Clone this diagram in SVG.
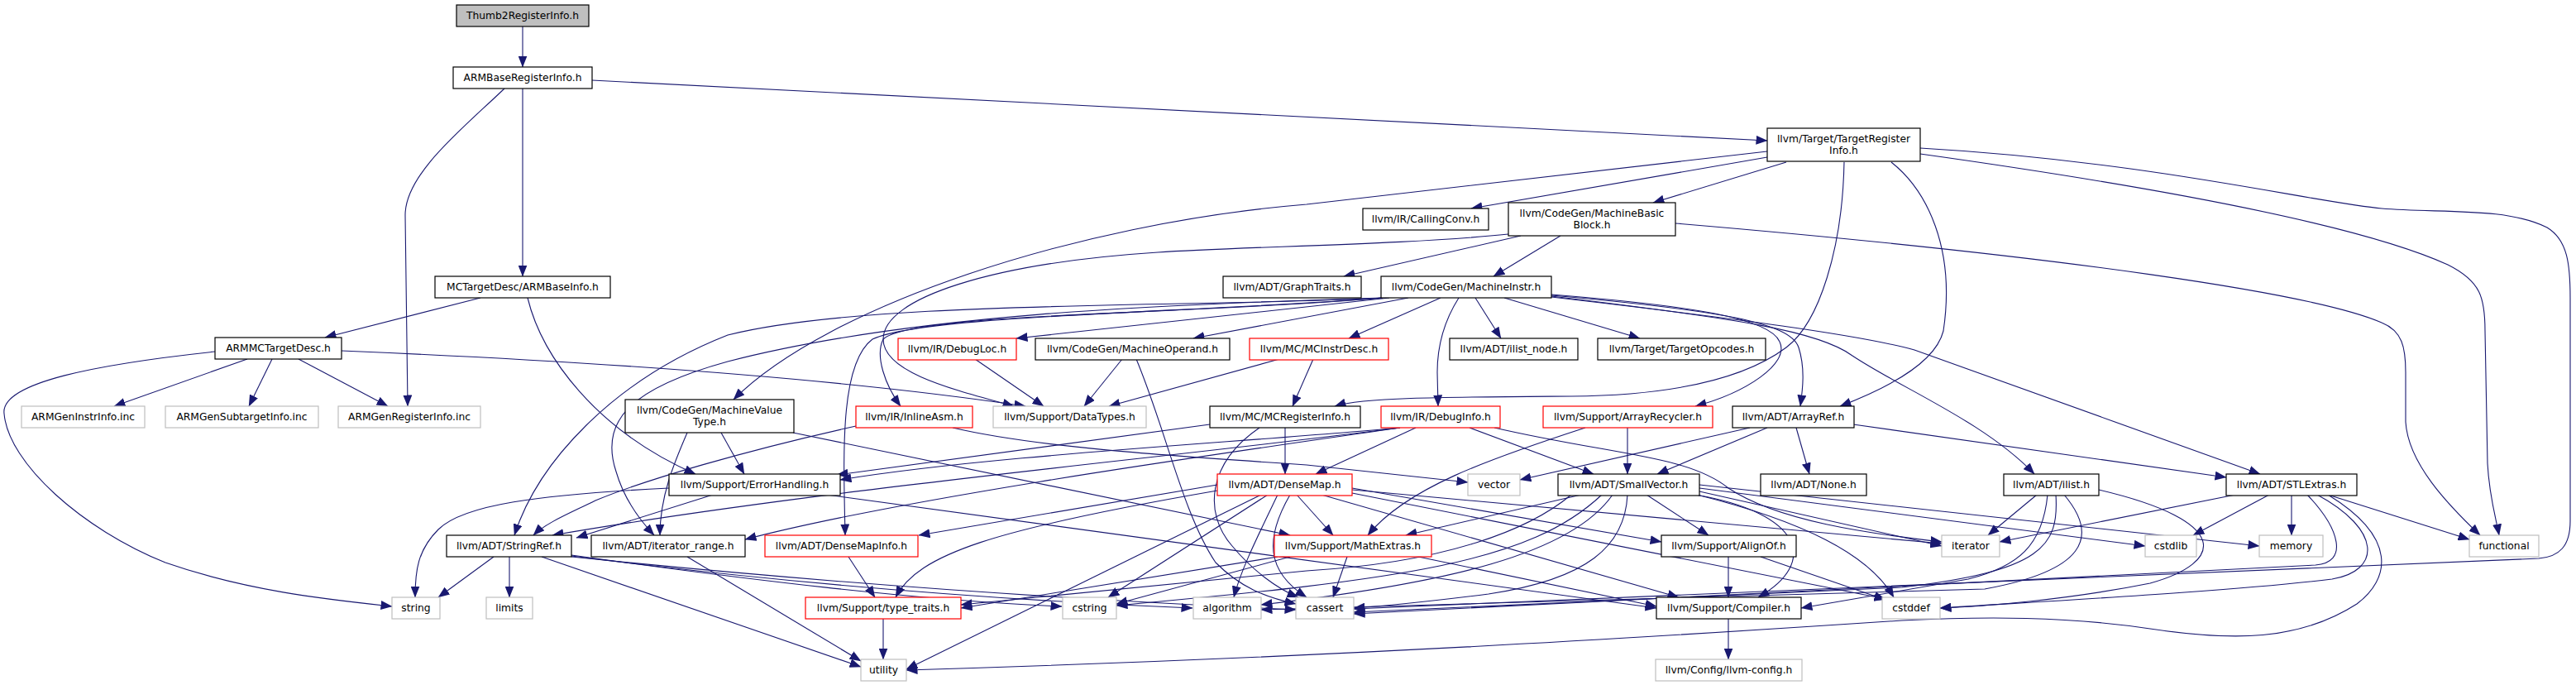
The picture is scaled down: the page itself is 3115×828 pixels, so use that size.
<svg xmlns="http://www.w3.org/2000/svg" width="3115" height="828" viewBox="0 0 3115 828">
<defs>
<marker id="a" viewBox="0 0 14 11" refX="13.5" refY="5.5" markerWidth="14" markerHeight="11" markerUnits="userSpaceOnUse" orient="auto"><path d="M0,0 L14,5.5 L0,11 z" fill="#191970"/></marker>
<style>
.n rect{fill:#fff;stroke:#000;stroke-width:1.2}
.r rect{stroke:#ff0000}
.g rect{stroke:#bfbfbf}
.s rect{fill:#bfbfbf}
text{font-family:"DejaVu Sans","Liberation Sans",Arial,sans-serif;font-size:12.3px;fill:#000;text-anchor:middle}
.e path{fill:none;stroke:#191970;stroke-width:1.1;marker-end:url(#a)}
</style>
</defs>
<rect width="3115" height="828" fill="#fff"/>
<g id="edges" class="e">
<path d="M632,32 L632,81"/>
<path d="M716,97 L2137,170"/>
<path d="M632,107 L632,334"/>
<path d="M610,107 C560,155 490,210 490,260 L493,491"/>
<path d="M581,360 L393,408"/>
<path d="M638,360 C655,430 720,520 841,573"/>
<path d="M299,434 L138,491"/>
<path d="M329,434 L301,491"/>
<path d="M361,434 L469,491"/>
<path d="M260,425 C120,440 0,462 5,500 C10,560 100,640 200,680 C300,715 400,725 474,733"/>
<path d="M413,424 C700,436 1000,455 1240,491"/>
<path d="M2137,183 L1580,247 C1300,270 1000,370 887,483"/>
<path d="M2137,190 L1779,252"/>
<path d="M2160,196 L1999,245"/>
<path d="M2230,196 C2228,300 2200,390 2160,420 C2100,465 2000,478 1900,479 C1750,480 1650,480 1614,491"/>
<path d="M2287,196 C2330,230 2365,300 2350,400 C2340,440 2280,470 2225,491"/>
<path d="M2322,179 C2600,195 2800,245 2880,252 C2950,258 3030,250 3080,275 C3105,290 3108,320 3108,360 L3108,630 C3108,660 3095,673 3070,675 L1637,736"/>
<path d="M2322,186 C2600,225 2850,270 2960,320 C3000,340 3005,360 3005,400 L3008,560 C3010,600 3018,625 3022,647"/>
<path d="M2026,270 C2500,310 2800,355 2880,390 C2905,400 2909,420 2909,450 L2909,510 C2912,560 2960,610 2999,647"/>
<path d="M1839,285 L1625,334"/>
<path d="M1887,285 L1806,334"/>
<path d="M1824,283 C1700,296 1500,298 1400,305 C1200,318 1068,360 1068,410 C1068,450 1150,470 1226,491"/>
<path d="M1742,360 L1631,409"/>
<path d="M1764,360 C1745,390 1738,420 1738,450 L1739,491"/>
<path d="M1784,360 L1815,409"/>
<path d="M1819,360 L1983,409"/>
<path d="M1680,360 L1229,409"/>
<path d="M1703,360 L1443,409"/>
<path d="M1672,360 C1450,372 1050,362 880,405 C740,460 650,560 622,647"/>
<path d="M1672,360 C1400,368 1100,380 880,437 C760,470 725,510 745,570 C755,605 775,630 791,647"/>
<path d="M1672,360 C1450,378 1120,380 1055,410 C1015,440 1020,550 1022,647"/>
<path d="M1672,360 C1450,380 1100,378 1068,410 C1058,430 1070,465 1089,491"/>
<path d="M1876,356 C2050,370 2140,385 2152,413 C2165,440 2110,475 2050,491"/>
<path d="M1876,357 C2080,375 2165,390 2175,420 C2183,445 2180,470 2177,491"/>
<path d="M1876,358 C2100,385 2200,400 2240,430 C2300,470 2400,510 2460,573"/>
<path d="M1876,359 C2100,385 2250,405 2315,423 L2733,573"/>
<path d="M831,523 C815,560 798,600 798,647"/>
<path d="M872,523 L900,573"/>
<path d="M959,523 L1560,647"/>
<path d="M1152,517 C1250,540 1400,550 1580,562 L1775,583"/>
<path d="M1035,515 C900,545 780,580 720,605 C690,620 660,632 645,647"/>
<path d="M1179,434 L1262,491"/>
<path d="M1357,434 L1311,491"/>
<path d="M1374,434 C1410,520 1430,620 1470,680 C1500,710 1530,722 1567,730"/>
<path d="M1547,434 L1341,491"/>
<path d="M1588,434 L1563,491"/>
<path d="M1554,517 L1554,573"/>
<path d="M1463,513 L1012,574"/>
<path d="M1523,517 C1460,560 1455,620 1490,660 C1515,690 1545,712 1570,722"/>
<path d="M1712,517 L1591,573"/>
<path d="M1777,517 L1927,573"/>
<path d="M1807,517 C1950,550 2040,550 2090,590 C2150,630 2260,645 2348,655"/>
<path d="M1693,517 C1500,535 1200,550 1016,580"/>
<path d="M1693,517 C1500,545 1100,600 901,652"/>
<path d="M1693,517 C1400,555 1000,590 668,647"/>
<path d="M1917,517 C1800,555 1700,590 1654,647"/>
<path d="M1968,517 L1968,573"/>
<path d="M2172,517 L2188,573"/>
<path d="M2137,517 L2004,573"/>
<path d="M2116,517 L1838,580"/>
<path d="M2241,513 L2692,577"/>
<path d="M1991,598 L2066,647"/>
<path d="M1968,598 C1965,660 1920,700 1800,718 C1720,728 1680,732 1637,735"/>
<path d="M2050,598 C2180,620 2200,680 2126,722"/>
<path d="M1912,598 L1700,647"/>
<path d="M1900,598 C1850,640 1750,680 1580,690 L1162,731"/>
<path d="M1937,598 C1850,680 1700,700 1350,732"/>
<path d="M1950,598 C1900,670 1750,705 1525,731"/>
<path d="M2052,598 C2180,630 2260,670 2290,722"/>
<path d="M2055,590 L2594,660"/>
<path d="M2055,586 L2732,660"/>
<path d="M2055,594 L2348,660"/>
<path d="M2090,673 L2090,722"/>
<path d="M2129,673 L2280,725"/>
<path d="M2090,748 L2090,797"/>
<path d="M1472,586 L1111,647"/>
<path d="M1472,593 C1200,640 1110,670 1083,722"/>
<path d="M1525,598 L1096,809"/>
<path d="M1533,598 L1340,722"/>
<path d="M1545,598 C1520,650 1500,690 1492,722"/>
<path d="M1560,598 C1530,650 1530,690 1580,722"/>
<path d="M1568,598 L1612,647"/>
<path d="M1598,598 L2030,722"/>
<path d="M1635,590 L2009,655"/>
<path d="M1635,592 L2348,657"/>
<path d="M1635,596 L2280,724"/>
<path d="M597,673 L530,722"/>
<path d="M616,673 L616,722"/>
<path d="M655,673 L1041,806"/>
<path d="M691,671 C900,700 1100,725 1284,733"/>
<path d="M691,672 C950,705 1200,725 1442,735"/>
<path d="M691,673 C1000,705 1300,725 1567,737"/>
<path d="M831,673 L1041,799"/>
<path d="M862,598 L697,650"/>
<path d="M809,590 C650,598 560,610 530,640 C505,665 502,690 502,722"/>
<path d="M1000,598 L2003,735"/>
<path d="M1026,673 L1058,722"/>
<path d="M1629,673 L1612,722"/>
<path d="M1715,673 L2003,733"/>
<path d="M1545,673 L1162,735"/>
<path d="M1560,673 L1350,730"/>
<path d="M1068,748 L1068,797"/>
<path d="M2463,598 L2404,647"/>
<path d="M2476,598 C2470,660 2440,685 2380,700 L2178,735"/>
<path d="M2486,598 C2490,660 2470,690 2300,710 L1637,740"/>
<path d="M2496,598 C2540,650 2520,690 2400,712 L1525,737"/>
<path d="M2538,592 C2700,630 2690,680 2600,705 C2500,725 2400,733 2346,735"/>
<path d="M2703,598 L2418,655"/>
<path d="M2744,598 L2652,647"/>
<path d="M2771,598 L2771,647"/>
<path d="M2815,598 L2986,652"/>
<path d="M2790,598 C2830,640 2840,680 2800,683 L1637,742"/>
<path d="M2802,598 C2880,640 2880,690 2820,700 C2700,715 2450,728 2346,735"/>
<path d="M2815,598 C2900,650 2890,700 2850,730 C2780,775 2700,775 2600,760 C2500,745 2400,745 2300,750 C2000,770 1600,795 1096,810"/>
</g>
<g id="n0" class="n s"><rect x="552" y="6" width="160" height="26"/><text x="632" y="23">Thumb2RegisterInfo.h</text></g>
<g id="n1" class="n"><rect x="548" y="81" width="168" height="26"/><text x="632" y="98">ARMBaseRegisterInfo.h</text></g>
<g id="n2" class="n"><rect x="2137" y="155" width="185" height="40"/><text x="2229.5" y="172">llvm/Target/TargetRegister</text><text x="2229.5" y="186">Info.h</text></g>
<g id="n3" class="n"><rect x="526" y="334" width="212" height="26"/><text x="632" y="351">MCTargetDesc/ARMBaseInfo.h</text></g>
<g id="n5" class="n"><rect x="260" y="408" width="153" height="26"/><text x="336.5" y="425">ARMMCTargetDesc.h</text></g>
<g id="n6" class="n g"><rect x="26" y="491" width="149" height="26"/><text x="100.5" y="508">ARMGenInstrInfo.inc</text></g>
<g id="n7" class="n g"><rect x="200" y="491" width="185" height="26"/><text x="292.5" y="508">ARMGenSubtargetInfo.inc</text></g>
<g id="n4" class="n g"><rect x="409" y="491" width="172" height="26"/><text x="495" y="508">ARMGenRegisterInfo.inc</text></g>
<g id="n8" class="n g"><rect x="474" y="722" width="58" height="26"/><text x="503" y="739">string</text></g>
<g id="n49" class="n g"><rect x="588" y="722" width="56" height="26"/><text x="616" y="739">limits</text></g>
<g id="n32" class="n"><rect x="540" y="647" width="151" height="26"/><text x="615.5" y="664">llvm/ADT/StringRef.h</text></g>
<g id="n33" class="n"><rect x="715" y="647" width="186" height="26"/><text x="808" y="664">llvm/ADT/iterator_range.h</text></g>
<g id="n11" class="n"><rect x="1648" y="252" width="152" height="26"/><text x="1724" y="269">llvm/IR/CallingConv.h</text></g>
<g id="n12" class="n"><rect x="1824" y="245" width="202" height="40"/><text x="1925" y="262">llvm/CodeGen/MachineBasic</text><text x="1925" y="276">Block.h</text></g>
<g id="n13" class="n"><rect x="1479" y="334" width="167" height="26"/><text x="1562.5" y="351">llvm/ADT/GraphTraits.h</text></g>
<g id="n14" class="n"><rect x="1670" y="334" width="206" height="26"/><text x="1773" y="351">llvm/CodeGen/MachineInstr.h</text></g>
<g id="n20" class="n r"><rect x="1086" y="409" width="143" height="26"/><text x="1157.5" y="426">llvm/IR/DebugLoc.h</text></g>
<g id="n21" class="n"><rect x="1252" y="409" width="235" height="26"/><text x="1369.5" y="426">llvm/CodeGen/MachineOperand.h</text></g>
<g id="n22" class="n r"><rect x="1511" y="409" width="168" height="26"/><text x="1595" y="426">llvm/MC/MCInstrDesc.h</text></g>
<g id="n23" class="n"><rect x="1753" y="409" width="155" height="26"/><text x="1830.5" y="426">llvm/ADT/ilist_node.h</text></g>
<g id="n24" class="n"><rect x="1932" y="409" width="203" height="26"/><text x="2033.5" y="426">llvm/Target/TargetOpcodes.h</text></g>
<g id="n15" class="n"><rect x="756" y="483" width="204" height="40"/><text x="858" y="500">llvm/CodeGen/MachineValue</text><text x="858" y="514">Type.h</text></g>
<g id="n25" class="n r"><rect x="1035" y="491" width="141" height="26"/><text x="1105.5" y="508">llvm/IR/InlineAsm.h</text></g>
<g id="n9" class="n g"><rect x="1201" y="491" width="185" height="26"/><text x="1293.5" y="508">llvm/Support/DataTypes.h</text></g>
<g id="n16" class="n"><rect x="1463" y="491" width="182" height="26"/><text x="1554" y="508">llvm/MC/MCRegisterInfo.h</text></g>
<g id="n26" class="n r"><rect x="1670" y="491" width="144" height="26"/><text x="1742" y="508">llvm/IR/DebugInfo.h</text></g>
<g id="n27" class="n r"><rect x="1866" y="491" width="205" height="26"/><text x="1968.5" y="508">llvm/Support/ArrayRecycler.h</text></g>
<g id="n17" class="n"><rect x="2095" y="491" width="147" height="26"/><text x="2168.5" y="508">llvm/ADT/ArrayRef.h</text></g>
<g id="n10" class="n"><rect x="809" y="573" width="207" height="26"/><text x="912.5" y="590">llvm/Support/ErrorHandling.h</text></g>
<g id="n31" class="n r"><rect x="1472" y="573" width="163" height="26"/><text x="1553.5" y="590">llvm/ADT/DenseMap.h</text></g>
<g id="n28" class="n g"><rect x="1775" y="573" width="63" height="26"/><text x="1806.5" y="590">vector</text></g>
<g id="n29" class="n"><rect x="1884" y="573" width="171" height="26"/><text x="1969.5" y="590">llvm/ADT/SmallVector.h</text></g>
<g id="n30" class="n"><rect x="2129" y="573" width="128" height="26"/><text x="2193" y="590">llvm/ADT/None.h</text></g>
<g id="n42" class="n"><rect x="2423" y="573" width="115" height="26"/><text x="2480.5" y="590">llvm/ADT/ilist.h</text></g>
<g id="n43" class="n"><rect x="2692" y="573" width="158" height="26"/><text x="2771" y="590">llvm/ADT/STLExtras.h</text></g>
<g id="n34" class="n r"><rect x="925" y="647" width="185" height="26"/><text x="1017.5" y="664">llvm/ADT/DenseMapInfo.h</text></g>
<g id="n35" class="n r"><rect x="1541" y="647" width="190" height="26"/><text x="1636" y="664">llvm/Support/MathExtras.h</text></g>
<g id="n36" class="n"><rect x="2009" y="647" width="163" height="26"/><text x="2090.5" y="664">llvm/Support/AlignOf.h</text></g>
<g id="n39" class="n g"><rect x="2348" y="647" width="70" height="26"/><text x="2383" y="664">iterator</text></g>
<g id="n40" class="n g"><rect x="2594" y="647" width="62" height="26"/><text x="2625" y="664">cstdlib</text></g>
<g id="n41" class="n g"><rect x="2732" y="647" width="77" height="26"/><text x="2770.5" y="664">memory</text></g>
<g id="n19" class="n g"><rect x="2986" y="647" width="84" height="26"/><text x="3028" y="664">functional</text></g>
<g id="n44" class="n r"><rect x="974" y="722" width="188" height="26"/><text x="1068" y="739">llvm/Support/type_traits.h</text></g>
<g id="n45" class="n g"><rect x="1285" y="722" width="65" height="26"/><text x="1317.5" y="739">cstring</text></g>
<g id="n46" class="n g"><rect x="1443" y="722" width="82" height="26"/><text x="1484" y="739">algorithm</text></g>
<g id="n18" class="n g"><rect x="1567" y="722" width="70" height="26"/><text x="1602" y="739">cassert</text></g>
<g id="n37" class="n"><rect x="2003" y="722" width="175" height="26"/><text x="2090.5" y="739">llvm/Support/Compiler.h</text></g>
<g id="n38" class="n g"><rect x="2276" y="722" width="70" height="26"/><text x="2311" y="739">cstddef</text></g>
<g id="n47" class="n g"><rect x="1041" y="797" width="55" height="26"/><text x="1068.5" y="814">utility</text></g>
<g id="n48" class="n g"><rect x="2002" y="797" width="177" height="26"/><text x="2090.5" y="814">llvm/Config/llvm-config.h</text></g>
</svg>
